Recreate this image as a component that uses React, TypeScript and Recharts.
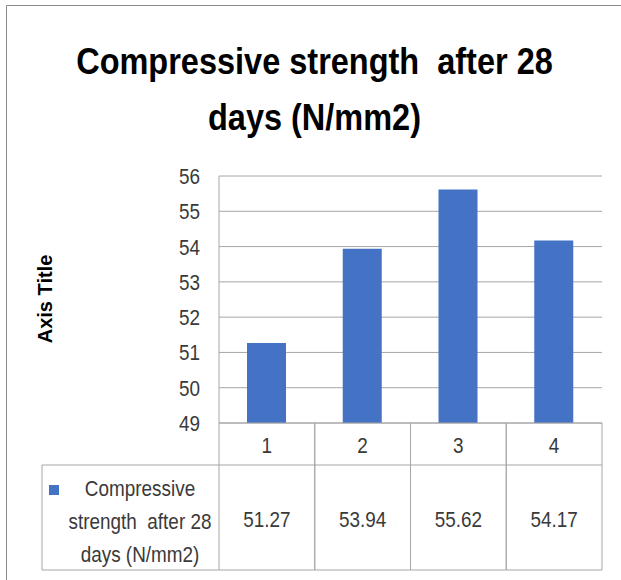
import React from "react";
import { BarChart, Bar, XAxis, YAxis, CartesianGrid } from "recharts";

const categories = ["1", "2", "3", "4"];
const strength = [51.27, 53.94, 55.62, 54.17];
const yTicks = [49, 50, 51, 52, 53, 54, 55, 56];
const seriesName = ["Compressive", "strength  after 28", "days (N/mm2)"];

const data = categories.map((c, i) => ({ cat: c, value: strength[i] }));

const W = 621;
const H = 580;
const X_AXIS_H = 20;
const M = { top: 176, right: 19, bottom: 157 - X_AXIS_H, left: 159 };
const Y_AXIS_W = 60;
const PLOT_LEFT = M.left + Y_AXIS_W;
const PLOT_RIGHT = W - M.right;
const BAND = (PLOT_RIGHT - PLOT_LEFT) / categories.length;

// no Calibri here, so squeeze Liberation Sans a bit
const FONT = "'Liberation Sans', Arial, sans-serif";
const SQUEEZE = 0.86;
const GRID = "#a6a6a6";
const TEXT = "#3a3a3a";
const BLUE = "#4472C4";

// table rows below the axis, offsets from the axis line
const ROW1 = 42;
const ROW2 = 147;
const TABLE_LEFT = 42;

function NText({ x, y, anchor = "middle", children }: any) {
  return (
    <text
      transform={`translate(${x},${y}) scale(${SQUEEZE},1)`}
      textAnchor={anchor}
      dominantBaseline="central"
      fontFamily={FONT}
      fontSize={22}
      fill={TEXT}
      style={{ whiteSpace: "pre" }}
    >
      {children}
    </text>
  );
}

function YTick(props: any) {
  const { x, y, payload } = props;
  return <NText x={x} y={y} anchor="end">{payload.value}</NText>;
}

function TableTick(props: any) {
  const { x, y, payload, index } = props;
  const l = x - BAND / 2;
  const r = x + BAND / 2;
  return (
    <g>
      <line x1={l} y1={y} x2={l} y2={y + ROW2} stroke={GRID} />
      <line x1={r} y1={y} x2={r} y2={y + ROW2} stroke={GRID} />
      <line x1={l} y1={y + ROW1} x2={r} y2={y + ROW1} stroke={GRID} />
      <line x1={l} y1={y + ROW2} x2={r} y2={y + ROW2} stroke={GRID} />
      <NText x={x} y={y + 22}>{payload.value}</NText>
      <NText x={x} y={y + 96}>{strength[index].toFixed(2)}</NText>
      {index === 0 && (
        <g>
          <line x1={TABLE_LEFT} y1={y + ROW1} x2={l} y2={y + ROW1} stroke={GRID} />
          <line x1={TABLE_LEFT} y1={y + ROW2} x2={l} y2={y + ROW2} stroke={GRID} />
          <line x1={TABLE_LEFT} y1={y + ROW1} x2={TABLE_LEFT} y2={y + ROW2} stroke={GRID} />
          <rect x={49} y={y + 62} width={10} height={10} fill={BLUE} />
          {seriesName.map((s, i) => (
            <NText key={s} x={140} y={y + 65 + i * 33}>{s}</NText>
          ))}
        </g>
      )}
    </g>
  );
}

export default function App() {
  return (
    <div style={{ position: "absolute", left: 0, top: 0, width: W, height: H, background: "#fff" }}>
      <svg width={W} height={H} style={{ position: "absolute", left: 0, top: 0 }}>
        <line x1={6.5} y1={5.5} x2={W} y2={5.5} stroke="#8c8c8c" />
        <line x1={6.5} y1={5.5} x2={6.5} y2={H} stroke="#8c8c8c" />
      </svg>
      <div
        style={{
          position: "absolute",
          left: 4,
          top: 34,
          width: W,
          textAlign: "center",
          fontFamily: FONT,
          fontWeight: "bold",
          fontSize: 37,
          lineHeight: "56px",
          color: "#000",
          transform: "scaleX(0.878)",
          transformOrigin: "50% 0",
        }}
      >
        <div style={{ whiteSpace: "pre" }}>Compressive strength  after 28</div>
        <div>days (N/mm2)</div>
      </div>
      <div
        style={{
          position: "absolute",
          left: 45,
          top: 299,
          transform: "translate(-50%, -50%) rotate(-90deg)",
          fontFamily: FONT,
          fontWeight: "bold",
          fontSize: 20,
          color: "#000",
          whiteSpace: "nowrap",
        }}
      >
        Axis Title
      </div>
      <div style={{ position: "absolute", left: 0, top: 0 }}>
        <BarChart width={W} height={H} data={data} margin={M}>
          <CartesianGrid vertical={false} stroke={GRID} strokeWidth={1} />
          <XAxis
            dataKey="cat"
            axisLine={{ stroke: GRID }}
            tickLine={false}
            tickSize={0}
            tickMargin={0}
            tick={<TableTick />}
            interval={0}
            height={X_AXIS_H}
          />
          <YAxis
            domain={[49, 56]}
            ticks={yTicks}
            width={Y_AXIS_W}
            axisLine={{ stroke: GRID }}
            tickLine={false}
            tickSize={6}
            tickMargin={13}
            tick={<YTick />}
            interval={0}
            allowDataOverflow
          />
          <Bar dataKey="value" fill={BLUE} barSize={39} isAnimationActive={false} />
        </BarChart>
      </div>
    </div>
  );
}
